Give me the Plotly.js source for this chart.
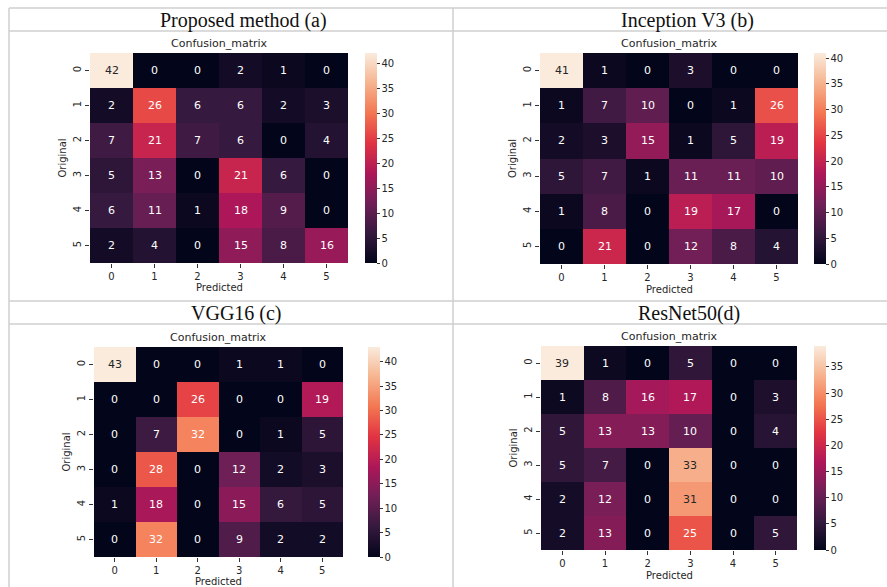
<!DOCTYPE html>
<html>
<head>
<meta charset="utf-8">
<script src="https://cdn.plot.ly/plotly-3.0.1.min.js"></script>
<style>html,body{margin:0;padding:0;background:#fff;}#chart{width:887px;height:587px;}</style>
</head>
<body>
<div id="chart"></div>
<script>
// ---- data ----
const classes = [0, 1, 2, 3, 4, 5];
const panelTitles = ['Proposed method (a)', 'Inception V3 (b)', 'VGG16 (c)', 'ResNet50(d)'];
const subTitle = 'Confusion_matrix';
const xLabel = 'Predicted';
const yLabel = 'Original';

const cmProposed = [
  [42, 0, 0, 2, 1, 0],
  [2, 26, 6, 6, 2, 3],
  [7, 21, 7, 6, 0, 4],
  [5, 13, 0, 21, 6, 0],
  [6, 11, 1, 18, 9, 0],
  [2, 4, 0, 15, 8, 16]
];
const cmInception = [
  [41, 1, 0, 3, 0, 0],
  [1, 7, 10, 0, 1, 26],
  [2, 3, 15, 1, 5, 19],
  [5, 7, 1, 11, 11, 10],
  [1, 8, 0, 19, 17, 0],
  [0, 21, 0, 12, 8, 4]
];
const cmVGG16 = [
  [43, 0, 0, 1, 1, 0],
  [0, 0, 26, 0, 0, 19],
  [0, 7, 32, 0, 1, 5],
  [0, 28, 0, 12, 2, 3],
  [1, 18, 0, 15, 6, 5],
  [0, 32, 0, 9, 2, 2]
];
const cmResNet50 = [
  [39, 1, 0, 5, 0, 0],
  [1, 8, 16, 17, 0, 3],
  [5, 13, 13, 10, 0, 4],
  [5, 7, 0, 33, 0, 0],
  [2, 12, 0, 31, 0, 0],
  [2, 13, 0, 25, 0, 5]
];
const matrices = [cmProposed, cmInception, cmVGG16, cmResNet50];

// ---- styling / layout ----
const W = 887, H = 587;
const rocket = [[0, '#03051a'], [1/7, '#35193e'], [2/7, '#701f57'], [3/7, '#ad1759'],
                [4/7, '#e13342'], [5/7, '#f37651'], [6/7, '#f6b48f'], [1, '#faebdd']];

// pixel boxes of heatmaps
const boxes = [
  {l: 90, r: 348, t: 53, b: 263, cb: 365, tx: 243, ty: 20, px: 288},
  {l: 540, r: 798, t: 53, b: 264, cb: 814, tx: 687, ty: 20, px: 289},
  {l: 94, r: 343, t: 347, b: 557, cb: 368, tx: 236, ty: 313, px: 581},
  {l: 541, r: 797, t: 346, b: 550, cb: 814, tx: 689, ty: 313, px: 575}
];

function hexToRgb(h) { return [parseInt(h.substr(1,2),16), parseInt(h.substr(3,2),16), parseInt(h.substr(5,2),16)]; }
function colorAt(f) {
  for (let i = 1; i < rocket.length; i++) {
    if (f <= rocket[i][0]) {
      const a = rocket[i-1], b = rocket[i];
      const t = (f - a[0]) / (b[0] - a[0]);
      const ca = hexToRgb(a[1]), cbb = hexToRgb(b[1]);
      return ca.map((v, k) => v + (cbb[k] - v) * t);
    }
  }
  return hexToRgb(rocket[rocket.length-1][1]);
}
function lum(rgb) {
  const c = rgb.map(v => { v /= 255; return v <= 0.03928 ? v / 12.92 : Math.pow((v + 0.055) / 1.055, 2.4); });
  return 0.2126 * c[0] + 0.7152 * c[1] + 0.0722 * c[2];
}

const px = x => x / W;
const py = y => 1 - y / H;
const tickFont = {family: 'DejaVu Sans', size: 10, color: '#262626'};
const labelFont = {family: 'DejaVu Sans', size: 10, color: '#262626'};

const data = [];
const layout = {
  width: W, height: H,
  margin: {l: 0, r: 0, t: 0, b: 0},
  paper_bgcolor: '#ffffff', plot_bgcolor: '#ffffff',
  showlegend: false,
  annotations: [],
  shapes: []
};

matrices.forEach((m, k) => {
  const bx = boxes[k];
  const sfx = k === 0 ? '' : String(k + 1);
  const zmax = Math.max(...m.flat());
  data.push({
    type: 'heatmap',
    z: m, x: classes, y: classes,
    xaxis: 'x' + sfx, yaxis: 'y' + sfx,
    colorscale: rocket, zmin: 0, zmax: zmax,
    colorbar: {
      x: px(bx.cb), xanchor: 'left', xref: 'paper',
      y: py((bx.t + bx.b) / 2), yanchor: 'middle',
      len: (bx.b - bx.t) / H, lenmode: 'fraction',
      thickness: 12, thicknessmode: 'pixels',
      xpad: 0, ypad: 0, outlinewidth: 0,
      tick0: 0, dtick: 5, ticks: 'outside', ticklen: 3, tickcolor: '#333',
      tickfont: tickFont
    }
  });
  layout['xaxis' + sfx] = {
    domain: [px(bx.l), px(bx.r)], anchor: 'y' + sfx,
    tickvals: classes, ticktext: classes.map(String),
    ticks: 'outside', ticklen: 4, tickcolor: '#333',
    showgrid: false, zeroline: false, showline: false,
    tickfont: tickFont, range: [-0.5, 5.5]
  };
  layout['yaxis' + sfx] = {
    domain: [py(bx.b), py(bx.t)], anchor: 'x' + sfx,
    tickvals: classes, ticktext: classes.map(String),
    range: [5.5, -0.5], tickangle: -90,
    ticks: 'outside', ticklen: 4, tickcolor: '#333',
    showgrid: false, zeroline: false, showline: false,
    tickfont: tickFont,
    title: {text: yLabel, font: labelFont, standoff: 3}
  };
  // cell labels
  m.forEach((row, i) => row.forEach((v, j) => {
    const L = lum(colorAt(v / zmax));
    layout.annotations.push({
      x: classes[j], y: classes[i], xref: 'x' + sfx, yref: 'y' + sfx,
      text: String(v), showarrow: false,
      font: {family: 'DejaVu Sans', size: 11, color: L > 0.408 ? '#262626' : '#ffffff'}
    });
  }));
  // x-axis title
  layout.annotations.push({
    x: px((bx.l + bx.r) / 2), y: py(bx.px), xref: 'paper', yref: 'paper',
    xanchor: 'center', yanchor: 'middle', showarrow: false, borderpad: 0,
    text: xLabel, font: labelFont
  });
  // subplot title
  layout.annotations.push({
    x: px((bx.l + bx.r) / 2), y: py(bx.t - 2), xref: 'paper', yref: 'paper',
    xanchor: 'center', yanchor: 'bottom', showarrow: false, borderpad: 0,
    text: subTitle, font: {family: 'DejaVu Sans', size: 11, color: '#262626'}
  });
  // panel title
  layout.annotations.push({
    x: px(bx.tx), y: py(bx.ty), xref: 'paper', yref: 'paper',
    xanchor: 'center', yanchor: 'middle', showarrow: false,
    text: panelTitles[k], font: {family: 'Liberation Serif', size: 20, color: '#111'}
  });
});

// table grid lines
const lineStyle = {color: '#cfcfcf', width: 1.5};
[8, 31, 301, 324].forEach(yy => layout.shapes.push({
  type: 'line', xref: 'paper', yref: 'paper', x0: px(9), x1: 1, y0: py(yy), y1: py(yy), line: lineStyle
}));
[9, 453].forEach(xx => layout.shapes.push({
  type: 'line', xref: 'paper', yref: 'paper', x0: px(xx), x1: px(xx), y0: py(8), y1: 0, line: lineStyle
}));

Plotly.newPlot('chart', data, layout, {staticPlot: true, displayModeBar: false});
</script>
</body>
</html>
